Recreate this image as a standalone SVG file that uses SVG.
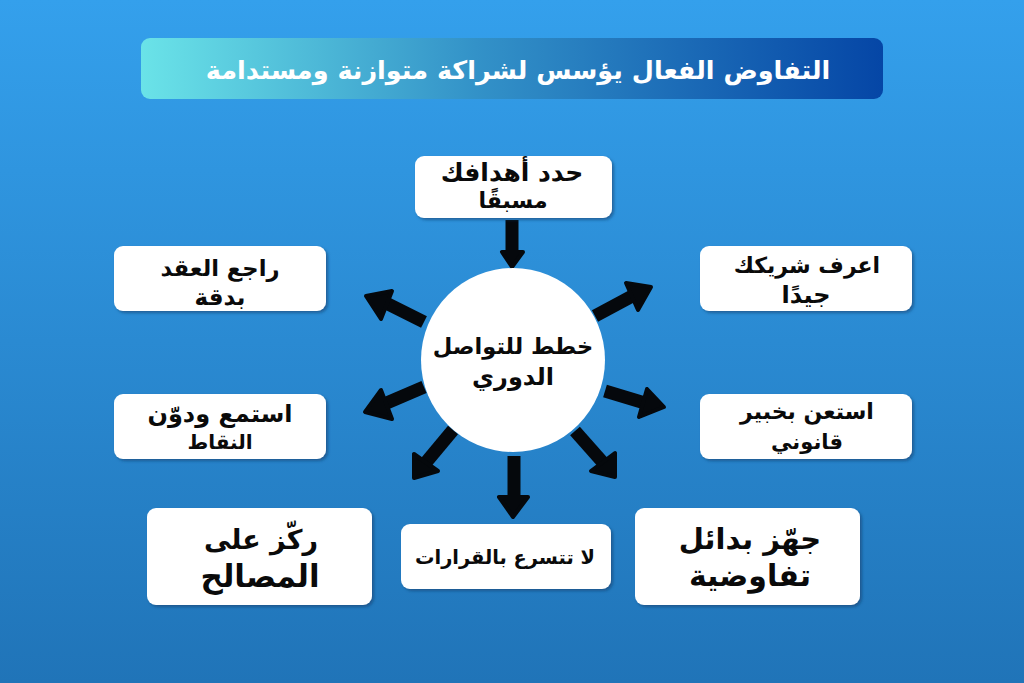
<svg xmlns="http://www.w3.org/2000/svg" width="1024" height="683" viewBox="0 0 1024 683">
<style>
text{font-family:"DejaVu Sans",sans-serif;font-weight:bold;text-anchor:middle;direction:rtl;fill:#0a0a0a}
.box{fill:#fff;filter:url(#sh)}
.shaft{fill:none;stroke:#05080c;stroke-width:13;stroke-linecap:butt}
.head{fill:#05080c;stroke:#05080c;stroke-width:4;stroke-linejoin:round}
</style>
<defs>
<linearGradient id="bg" x1="0" y1="0" x2="0" y2="1"><stop offset="0" stop-color="#34a0ec"/><stop offset="1" stop-color="#2074b8"/></linearGradient>
<linearGradient id="tg" x1="0" y1="0" x2="1" y2="0"><stop offset="0" stop-color="#6ae3e8"/><stop offset=".45" stop-color="#3392c8"/><stop offset="1" stop-color="#0546a6"/></linearGradient>
<filter id="sh" x="-10%" y="-15%" width="120%" height="130%"><feDropShadow dx="2" dy="2" stdDeviation="1.5" flood-color="#0b3a66" flood-opacity=".55"/></filter>
</defs>
<rect width="1024" height="683" fill="url(#bg)"/>
<g id="title"><rect x="141" y="38" width="742" height="61" rx="9" fill="url(#tg)"/><text x="518" y="79" font-size="25.5" style="fill:#fff">التفاوض الفعال يؤسس لشراكة متوازنة ومستدامة</text></g>
<g id="connectors">
<path class="shaft" d="M512 220V254"/><path class="head" d="M502 252H523L512 267Z"/>
<path class="shaft" d="M595 316L636 294"/><path class="head" d="M626 283L651 287L638 310Z"/>
<path class="shaft" d="M605 391L648 404"/><path class="head" d="M647 389L664 407L639 417Z"/>
<path class="shaft" d="M575 431L606 466"/><path class="head" d="M615 453L615 477L591 471Z"/>
<path class="shaft" d="M514 456V500"/><path class="head" d="M499 497H528L513 517Z"/>
<path class="shaft" d="M453 430L423 466"/><path class="head" d="M414 454L414 478L438 471Z"/>
<path class="shaft" d="M424 387L382 405"/><path class="head" d="M381 390L365 412L392 419Z"/>
<path class="shaft" d="M424 322L382 301"/><path class="head" d="M392 291L366 296L381 319Z"/>
</g>
<g id="center"><circle cx="513" cy="360" r="92" fill="#fff"/><text font-size="22.5" x="513" y="354">خطط للتواصل</text><text font-size="24" x="513" y="385">الدوري</text></g>
<g id="n1"><rect class="box" x="415" y="156" width="197" height="62" rx="9"/><text font-size="25" x="512" y="181">حدد أهدافك</text><text font-size="22" x="513" y="208">مسبقًا</text></g>
<g id="n2"><rect class="box" x="700" y="246" width="212" height="65" rx="9"/><text font-size="22" x="807" y="273">اعرف شريكك</text><text font-size="24" x="806" y="303">جيدًا</text></g>
<g id="n3"><rect class="box" x="700" y="394" width="212" height="65" rx="9"/><text font-size="22" x="807" y="419">استعن بخبير</text><text font-size="21" x="807" y="449">قانوني</text></g>
<g id="n4"><rect class="box" x="635" y="508" width="225" height="97" rx="9"/><text font-size="29" x="750" y="549">جهّز بدائل</text><text font-size="30" x="750" y="586">تفاوضية</text></g>
<g id="n5"><rect class="box" x="401" y="524" width="210" height="65" rx="9"/><text font-size="19.4" x="505" y="564">لا تتسرع بالقرارات</text></g>
<g id="n6"><rect class="box" x="147" y="508" width="225" height="97" rx="9"/><text font-size="27" x="261" y="549">ركّز على</text><text font-size="31" x="260" y="587">المصالح</text></g>
<g id="n7"><rect class="box" x="114" y="394" width="212" height="65" rx="9"/><text font-size="24" x="220" y="422">استمع ودوّن</text><text font-size="20" x="220" y="449">النقاط</text></g>
<g id="n8"><rect class="box" x="114" y="246" width="212" height="65" rx="9"/><text font-size="22.7" x="220" y="276">راجع العقد</text><text font-size="23" x="220" y="305">بدقة</text></g>
</svg>
